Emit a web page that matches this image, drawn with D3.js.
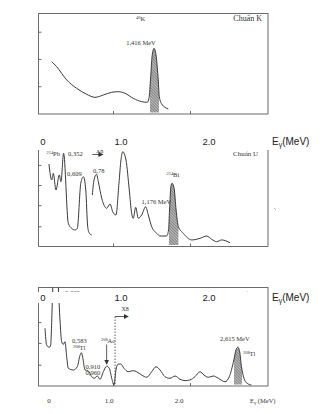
<!DOCTYPE html>
<html>
<head>
<meta charset="utf-8">
<script src="https://cdn.jsdelivr.net/npm/d3@7"></script>
<style>
  html, body { margin: 0; padding: 0; background: #fff; }
  svg { display: block; }
  text { font-family: "Liberation Serif", "Times New Roman", serif; fill: #333; }
  text.ax { font-family: "Liberation Sans", Arial, sans-serif; fill: #222; }
</style>
</head>
<body>
<svg id="chart" width="323" height="414"></svg>
<script>
// ---- Potassium reference spectrum (40K line at 1.416 MeV) ----
const kEnergy = [0.183, 0.243, 0.364, 0.484, 0.605, 0.705, 0.805, 0.906, 0.986, 1.066, 1.166,
                 1.267, 1.335, 1.355, 1.376, 1.392, 1.416, 1.440, 1.464, 1.480, 1.508, 1.588];
const kCounts = [51.8, 46.8, 33.7, 25.4, 19.5, 16.5, 18.8, 21.5, 22.1, 20.5, 15.5,
                 12.2, 11.6, 15.5, 36.9, 56.7, 65, 58.4, 36.9, 17.1, 9.9, 5];

// ---- Uranium reference spectrum: low-energy part ----
const uLowEnergy = [0.162, 0.197, 0.218, 0.253, 0.296, 0.318, 0.352, 0.413, 0.457, 0.500, 0.530,
                    0.575, 0.609, 0.640, 0.665, 0.687, 0.718];
const uLowCounts = [85.4, 68.8, 75.7, 58.3, 74, 67, 96.6, 23.6, 18.4, 16.7, 18.4,
                    65.3, 72.2, 58.3, 20.1, 13.2, 11.5];

// ---- Uranium reference spectrum: magnified part ----
const uHighEnergy = [0.725, 0.747, 0.78, 0.803, 0.847, 0.912, 0.955, 0.990, 1.032, 1.071,
                     1.097, 1.12, 1.162, 1.205, 1.236, 1.257, 1.288, 1.322, 1.366, 1.418,
                     1.452, 1.496, 1.561, 1.604, 1.691, 1.715, 1.728, 1.745, 1.76, 1.787,
                     1.813, 1.843, 1.906, 2.016, 2.123, 2.210, 2.275, 2.340, 2.405, 2.513];
const uHighCounts = [53.1, 68.8, 74.7, 67, 49.7, 39.3, 43.8, 35.7, 32.3, 65.3,
                     89.6, 98.2, 89.6, 58.3, 34.1, 28.9, 40.3, 28.9, 32.3, 40.9,
                     32.3, 20.1, 13.2, 10.4, 10.4, 16.7, 37.5, 61.8, 65.3, 60.1,
                     37.5, 20.1, 13.2, 6.3, 8, 10.4, 7, 4.5, 6.3, 3.4];

// ---- Thorium reference spectrum (208Tl line at 2.615 MeV) ----
const thEnergy = [0.110, 0.132, 0.166, 0.184, 0.205, 0.239, 0.283, 0.305, 0.327, 0.348,
                  0.370, 0.392, 0.413, 0.478, 0.530, 0.565, 0.583, 0.600, 0.630, 0.673,
                  0.717, 0.751, 0.790, 0.825, 0.868, 0.911, 0.945, 0.977, 1.006, 1.032,
                  1.062, 1.094, 1.136, 1.192, 1.257, 1.301, 1.366, 1.431, 1.496, 1.552,
                  1.604, 1.669, 1.734, 1.799, 1.864, 1.929, 1.994, 2.058, 2.123, 2.175,
                  2.231, 2.296, 2.361, 2.448, 2.504, 2.563, 2.593, 2.615, 2.636, 2.662,
                  2.694, 2.736, 2.792];
const thCounts = [58.3, 41.4, 39.1, 41.4, 83.8, 160, 100.3, 66.7, 44.7, 42,
                  44.7, 29.6, 17.9, 16.2, 19.5, 31, 33.6, 29, 16.2, 15.2,
                  9.4, 7.8, 10.1, 6.8, 14.4, 20, 17.9, 7.8, 1, 16.2,
                  22.2, 22.2, 17.9, 14.4, 15.5, 14.4, 11.1, 8.8, 14.4, 19.5,
                  16.2, 9.4, 7.8, 10.1, 6.8, 5.4, 6.1, 9.4, 14.4, 11.1,
                  8.8, 10.1, 7.8, 4.3, 9.4, 26.3, 37.1, 39.1, 35.7, 19.5,
                  7.8, 2.7, 1];

// ---- axis ticks and labels ----
const energyTicks = [1.0, 2.0];
const energyLabels = ["0", "1.0", "2.0"];
const energyLabelValues = [0, 1, 2];
const kTicks = [27, 54, 81];
const uTicks = [20, 42, 63, 84];
const thTicks = [21, 43, 64];

const svg = d3.select("#chart");
const frameColor = "#6b6b6b";
const lineColor = "#3a3a3a";

// energy scales (the K spectrum has its own calibration)
const x = d3.scaleLinear().domain([0, 3]).range([36.5, 267.5]);
const xK = d3.scaleLinear().domain([0, 3]).range([36.5, 285.5]);
// positions of the printed energy captions
const xTopLabel = d3.scaleLinear().domain([0, 1, 2]).range([43, 121, 209]);
const xBotLabel = d3.scaleLinear().domain([0, 1, 2]).range([49, 109, 179]);

const yK = d3.scaleLinear().domain([0, 100]).range([114, 13]);
const yU = d3.scaleLinear().domain([0, 100]).range([246, 150]);
const yTh = d3.scaleLinear().domain([0, 100]).range([386, 287]);

const defs = svg.append("defs");
// hatch used under the reference lines
const pat = defs.append("pattern")
  .attr("id", "hatch").attr("patternUnits", "userSpaceOnUse")
  .attr("width", 2).attr("height", 2)
  .attr("patternTransform", "rotate(-45)");
pat.append("rect").attr("width", 2).attr("height", 2).attr("fill", "#bdbdbd");
pat.append("line").attr("x1", 0).attr("y1", 0).attr("x2", 0).attr("y2", 2)
  .attr("stroke", "#3c3c3c").attr("stroke-width", 0.9);

// arrow head
defs.append("marker").attr("id", "arrow")
  .attr("viewBox", "0 0 8 8").attr("refX", 7).attr("refY", 4)
  .attr("markerWidth", 5).attr("markerHeight", 5)
  .attr("markerUnits", "userSpaceOnUse").attr("orient", "auto")
  .append("path").attr("d", "M0,0 L8,4 L0,8 Z").attr("fill", "#333");

const zip = (e, c) => e.map((v, i) => ({ e: v, c: c[i] }));

function drawSpectrum(g, xs, ys, data) {
  const line = d3.line().x(d => xs(d.e)).y(d => ys(d.c)).curve(d3.curveMonotoneX);
  g.append("path").datum(data).attr("d", line)
    .attr("fill", "none").attr("stroke", lineColor).attr("stroke-width", 1);
}

function drawHatch(g, id, xs, ys, data, e0, e1, base) {
  const clip = defs.append("clipPath").attr("id", id);
  clip.append("rect").attr("x", xs(e0)).attr("width", xs(e1) - xs(e0))
    .attr("y", 0).attr("height", 414);
  const area = d3.area().x(d => xs(d.e)).y0(base).y1(d => ys(d.c)).curve(d3.curveMonotoneX);
  g.append("path").datum(data).attr("d", area)
    .attr("fill", "url(#hatch)").attr("clip-path", `url(#${id})`);
}

function leftTicks(g, ys, ticks, x0) {
  g.selectAll(null).data(ticks).enter().append("line")
    .attr("x1", x0).attr("x2", x0 + 3)
    .attr("y1", d => ys(d)).attr("y2", d => ys(d))
    .attr("stroke", frameColor).attr("stroke-width", 1);
}
function bottomTicks(g, yb) {
  g.selectAll(null).data(energyTicks).enter().append("line")
    .attr("x1", d => x(d)).attr("x2", d => x(d))
    .attr("y1", yb).attr("y2", yb - 3)
    .attr("stroke", frameColor).attr("stroke-width", 1);
}
function label(g, xp, yp, txt, size, anchor) {
  return g.append("text").attr("x", xp).attr("y", yp)
    .attr("font-size", size).attr("text-anchor", anchor || "start").text(txt);
}
function nuclide(g, xp, yp, mass, sym, size) {
  const t = g.append("text").attr("x", xp).attr("y", yp).attr("font-size", size);
  t.append("tspan").attr("font-size", size * 0.68).attr("dy", -2).text(mass);
  t.append("tspan").attr("dy", 2).text(sym);
  return t;
}

// ================= Panel 1 : Chuẩn K =================
const p1 = svg.append("g");
p1.append("rect").attr("x", 38.5).attr("y", 13.5).attr("width", 229.5).attr("height", 100.5)
  .attr("fill", "none").attr("stroke", frameColor).attr("stroke-width", 1);
leftTicks(p1, yK, kTicks, 38.5);
bottomTicks(p1, 114);
const kData = zip(kEnergy, kCounts);
drawHatch(p1, "clipK", xK, yK, kData, 1.367, 1.475, yK(0) - 1.5);
drawSpectrum(p1, xK, yK, kData);
nuclide(p1, 136, 21, "40", "K", 6.5);
label(p1, 262, 21, "Chuẩn K", 8, "end");
label(p1, 141, 45, "1,416 MeV", 6.5, "middle");

// ================= Panel 2 : Chuẩn U =================
const p2 = svg.append("g");
p2.append("path")
  .attr("d", `M38.5,150 V246.5 H268 V150`)
  .attr("fill", "none").attr("stroke", frameColor).attr("stroke-width", 1);
leftTicks(p2, yU, uTicks, 38.5);
bottomTicks(p2, 246.5);
const uHigh = zip(uHighEnergy, uHighCounts);
drawHatch(p2, "clipU", x, yU, uHigh, 1.72, 1.843, yU(0) - 1);
drawSpectrum(p2, x, yU, zip(uLowEnergy, uLowCounts));
drawSpectrum(p2, x, yU, uHigh);
nuclide(p2, 46.5, 156, "214", "Pb", 6.5);
label(p2, 68, 156, "0,352", 6.5);
label(p2, 67, 175.5, "0,609", 6.5);
label(p2, 93, 172.5, "0,78", 6.5);
label(p2, 96, 152.5, "X8", 6);
p2.append("line").attr("x1", x(0.725)).attr("x2", x(0.86)).attr("y1", 154.5).attr("y2", 154.5)
  .attr("stroke", "#333").attr("stroke-width", 0.8).attr("marker-end", "url(#arrow)");
nuclide(p2, 166.5, 177, "214", "Bi", 6.5);
label(p2, 141.5, 203.5, "1,176 MeV", 6.5);
label(p2, 233, 156, "Chuẩn U", 7);
p2.append("line").attr("x1", 274.5).attr("y1", 208.5).attr("x2", 275.5).attr("y2", 209.5)
  .attr("stroke", "#555").attr("stroke-width", 0.8);

// ================= Panel 3 : Chuẩn Th =================
const p3 = svg.append("g");
p3.append("rect").attr("x", 38.5).attr("y", 287.5).attr("width", 229.5).attr("height", 98.5)
  .attr("fill", "none").attr("stroke", frameColor).attr("stroke-width", 1);
leftTicks(p3, yTh, thTicks, 38.5);
bottomTicks(p3, 386);
defs.append("clipPath").attr("id", "plotTh").append("rect")
  .attr("x", 38.5).attr("y", 287.5).attr("width", 229.5).attr("height", 98.5);
const thData = zip(thEnergy, thCounts);
drawHatch(p3, "clipTh", x, yTh, thData, 2.565, 2.67, yTh(0) - 1.5);
const thG = p3.append("g").attr("clip-path", "url(#plotTh)");
drawSpectrum(thG, x, yTh, thData);
label(p3, 65, 294.5, "0,239", 6.5);
label(p3, 233, 295.5, "Chuẩn Th", 7);
// magnified region marker
p3.append("line").attr("x1", x(1.02)).attr("x2", x(1.02)).attr("y1", 316.5).attr("y2", 386)
  .attr("stroke", "#333").attr("stroke-width", 0.8).attr("stroke-dasharray", "1.5,1.5");
p3.append("line").attr("x1", x(1.02)).attr("x2", x(1.19)).attr("y1", 316.5).attr("y2", 316.5)
  .attr("stroke", "#333").attr("stroke-width", 0.8).attr("marker-end", "url(#arrow)");
label(p3, 121.5, 311, "X8", 6);
label(p3, 72, 343, "0,583", 6.5);
nuclide(p3, 73, 349.5, "208", "Tl", 6.5);
label(p3, 85.5, 368.5, "0,910", 6.5);
label(p3, 85.5, 374.5, "0,960", 6.5);
nuclide(p3, 101, 343, "208", "Ac", 6.5);
p3.append("line").attr("x1", x(0.911)).attr("x2", x(0.911)).attr("y1", 344.5).attr("y2", 364)
  .attr("stroke", "#333").attr("stroke-width", 0.8).attr("marker-end", "url(#arrow)");
label(p3, 220, 341, "2,615 MeV", 6.5);
nuclide(p3, 243, 356, "208", "Tl", 6.5);

// bottom energy captions
const bot = svg.append("g");
bot.selectAll(null).data(energyLabels).enter().append("text")
  .attr("x", (d, i) => xBotLabel(energyLabelValues[i])).attr("y", 403)
  .attr("font-size", 7).attr("text-anchor", "middle").text(d => d);
const eb = bot.append("text").attr("x", 250).attr("y", 403).attr("font-size", 6.5);
eb.append("tspan").text("E");
eb.append("tspan").attr("font-size", 5).attr("dy", 1).text("γ");
eb.append("tspan").attr("dy", -1).text(" (MeV)");

// ================= energy caption rows laid over the panels =================
function captionRow(yTop, yBottom, baseline) {
  svg.append("rect").attr("x", 30).attr("y", yTop).attr("width", 236.5)
    .attr("height", yBottom - yTop).attr("fill", "#fff");
  const g = svg.append("g");
  g.selectAll(null).data(energyLabels).enter().append("text")
    .attr("class", "ax")
    .attr("x", (d, i) => xTopLabel(energyLabelValues[i])).attr("y", baseline)
    .attr("font-size", 9.5).attr("text-anchor", "middle").text(d => d);
  const t = g.append("text").attr("class", "ax").attr("x", 272).attr("y", baseline)
    .attr("font-size", 10);
  t.append("tspan").text("E");
  t.append("tspan").attr("font-size", 7).attr("dy", 2).text("γ");
  t.append("tspan").attr("dy", -2).text("(MeV)");
}
captionRow(135, 150, 144.5);
captionRow(292, 303, 301);
</script>
</body>
</html>
